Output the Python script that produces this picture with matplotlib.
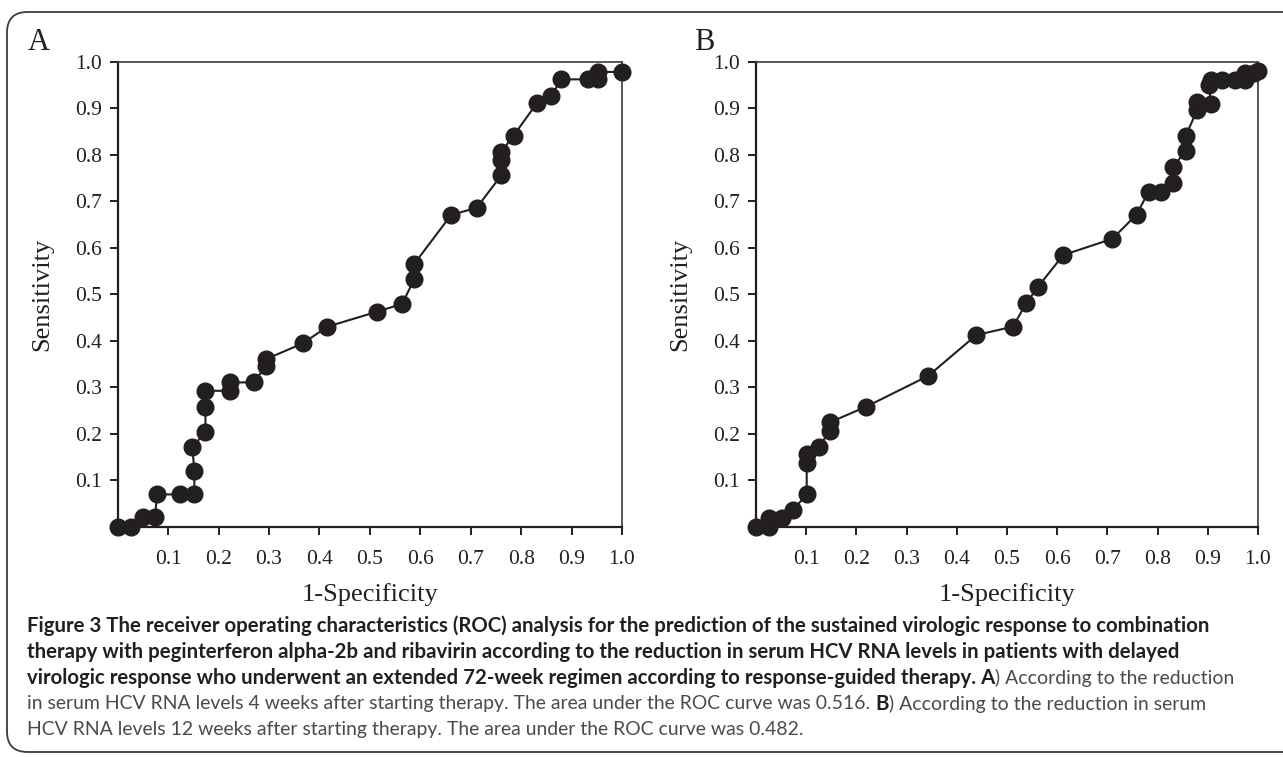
import matplotlib
matplotlib.use('Agg')
import matplotlib.pyplot as plt
from matplotlib.patches import FancyBboxPatch

# ---------------- data ----------------
a_fpr = [0.000, 0.026, 0.051, 0.074, 0.078, 0.124, 0.152, 0.152, 0.148, 0.174,
         0.174, 0.174, 0.223, 0.223, 0.270, 0.294, 0.294, 0.367, 0.416, 0.514,
         0.564, 0.588, 0.588, 0.661, 0.712, 0.761, 0.761, 0.760, 0.785, 0.832,
         0.859, 0.880, 0.932, 0.953, 0.953, 1.000]
a_tpr = [0.000, 0.000, 0.020, 0.020, 0.069, 0.069, 0.069, 0.119, 0.170, 0.204,
         0.258, 0.292, 0.292, 0.310, 0.310, 0.346, 0.360, 0.394, 0.430, 0.462,
         0.479, 0.532, 0.565, 0.670, 0.686, 0.756, 0.789, 0.805, 0.841, 0.912,
         0.926, 0.962, 0.962, 0.962, 0.978, 0.978]

b_fpr = [0.000, 0.025, 0.025, 0.051, 0.074, 0.101, 0.101, 0.101, 0.125, 0.147,
         0.147, 0.220, 0.343, 0.439, 0.512, 0.538, 0.562, 0.612, 0.710, 0.758,
         0.782, 0.806, 0.831, 0.831, 0.856, 0.856, 0.879, 0.879, 0.906, 0.902,
         0.906, 0.929, 0.954, 0.975, 0.975, 0.992, 1.000]
b_tpr = [0.000, 0.000, 0.018, 0.018, 0.036, 0.069, 0.136, 0.155, 0.172, 0.205,
         0.224, 0.258, 0.324, 0.412, 0.430, 0.480, 0.516, 0.584, 0.619, 0.671,
         0.720, 0.720, 0.738, 0.774, 0.808, 0.841, 0.896, 0.914, 0.910, 0.950,
         0.961, 0.961, 0.961, 0.961, 0.975, 0.975, 0.980]

ticks = [0.1, 0.2, 0.3, 0.4, 0.5, 0.6, 0.7, 0.8, 0.9, 1.0]
tick_labels = ['0.1', '0.2', '0.3', '0.4', '0.5', '0.6', '0.7', '0.8', '0.9', '1.0']
panel_labels = ['A', 'B']
xlabel = '1-Specificity'
ylabel = 'Sensitivity'

caption_lines = [
    [("Figure 3 The receiver operating characteristics (ROC) analysis for the prediction of the sustained virologic response to combination", True)],
    [("therapy with peginterferon alpha-2b and ribavirin according to the reduction in serum HCV RNA levels in patients with delayed", True)],
    [("virologic response who underwent an extended 72-week regimen according to response-guided therapy. A", True),
     (") According to the reduction", False)],
    [("in serum HCV RNA levels 4 weeks after starting therapy. The area under the ROC curve was 0.516.", False),
     (" ", None), ("B", True), (") According to the reduction in serum", False)],
    [("HCV RNA levels 12 weeks after starting therapy. The area under the ROC curve was 0.482.", False)],
]

# ---------------- figure ----------------
W, H = 1283, 757
fig = plt.figure(figsize=(W / 100, H / 100), dpi=100)
fig.patch.set_facecolor('white')

serif = ['Liberation Serif', 'DejaVu Serif']
ink = '#231f20'

# rounded frame
frame = FancyBboxPatch((7 / W, 1 - 752 / H), (1320 - 7) / W, (752 - 12) / H,
                       boxstyle='round,pad=0,rounding_size=0.016',
                       transform=fig.transFigure, fill=False,
                       edgecolor='#3a3a3a', linewidth=1.3, clip_on=False,
                       mutation_aspect=W / H)
fig.patches.append(frame)

TOP, BOT = 61.7, 526.5

def make_axes(left_px, right_px):
    ax = fig.add_axes([left_px / W, 1 - BOT / H,
                       (right_px - left_px) / W, (BOT - TOP) / H])
    ax.set_xlim(0, 1)
    ax.set_ylim(0, 1)
    for s in ['left', 'bottom']:
        ax.spines[s].set_linewidth(1.6)
        ax.spines[s].set_color(ink)
    for s in ['top', 'right']:
        ax.spines[s].set_linewidth(1.2)
        ax.spines[s].set_color('#3a3a3a')
    ax.set_xticks(ticks)
    ax.set_xticklabels(tick_labels, fontfamily=serif, fontsize=15.5, color=ink)
    ax.set_yticks(ticks)
    ax.set_yticklabels(tick_labels, fontfamily=serif, fontsize=15.5, color=ink)
    ax.tick_params(axis='x', direction='out', length=6, width=1.4, pad=11, colors=ink)
    ax.tick_params(axis='y', direction='out', length=6, width=1.4, pad=5.5, colors=ink)
    ax.set_xlabel(xlabel, fontfamily=serif, fontsize=19, color=ink)
    ax.set_ylabel(ylabel, fontfamily=serif, fontsize=19, color=ink)
    w_px = right_px - left_px
    ax.xaxis.label.set_va('center')
    ax.xaxis.set_label_coords(0.5, (BOT - 595) / (BOT - TOP))
    ax.yaxis.label.set_va('center')
    ax.yaxis.set_label_coords(-75.7 / w_px, 0.5)
    return ax

axA = make_axes(117.7, 622)
axB = make_axes(756, 1258)

for ax, xs, ys in [(axA, a_fpr, a_tpr), (axB, b_fpr, b_tpr)]:
    ax.plot(xs, ys, color=ink, linewidth=1.5, marker='o', markersize=12,
            markerfacecolor=ink, markeredgecolor=ink, clip_on=False, zorder=3)

fig.text(28 / W, 1 - 43 / H, panel_labels[0], fontfamily=serif, fontsize=22,
         color=ink, ha='left', va='center')
fig.text(694 / W, 1 - 43 / H, panel_labels[1], fontfamily=serif, fontsize=22,
         color=ink, ha='left', va='center')

# ---------------- caption ----------------
renderer = fig.canvas.get_renderer()
cap_font = ['Lato', 'DejaVu Sans']

def text_width(s, bold, fs):
    t = fig.text(0, 0, s, fontfamily=cap_font, fontsize=fs,
                 fontweight='bold' if bold else 'normal')
    w = t.get_window_extent(renderer).width
    t.remove()
    return w

# fit bold font size so first line spans target width
target = 1203 - 27
fs = 12.0
w0 = text_width(caption_lines[0][0][0], True, fs)
fs_bold = fs * target / w0
fs_reg = fs_bold * 0.95

space_w = text_width('x x', False, fs_reg) - text_width('xx', False, fs_reg)

y_lines = [626, 652, 678, 704, 730]
for segs, ypx in zip(caption_lines, y_lines):
    x = 27.0
    for s, bold in segs:
        if bold is None:
            x += space_w
            continue
        t = fig.text(x / W, 1 - ypx / H, s, fontfamily=cap_font,
                     fontsize=fs_bold if bold else fs_reg,
                     fontweight='bold' if bold else 'normal',
                     color=ink if bold else '#4a4a4c', ha='left', va='center')
        x += t.get_window_extent(renderer).width

fig.savefig('out.png', dpi=100)
